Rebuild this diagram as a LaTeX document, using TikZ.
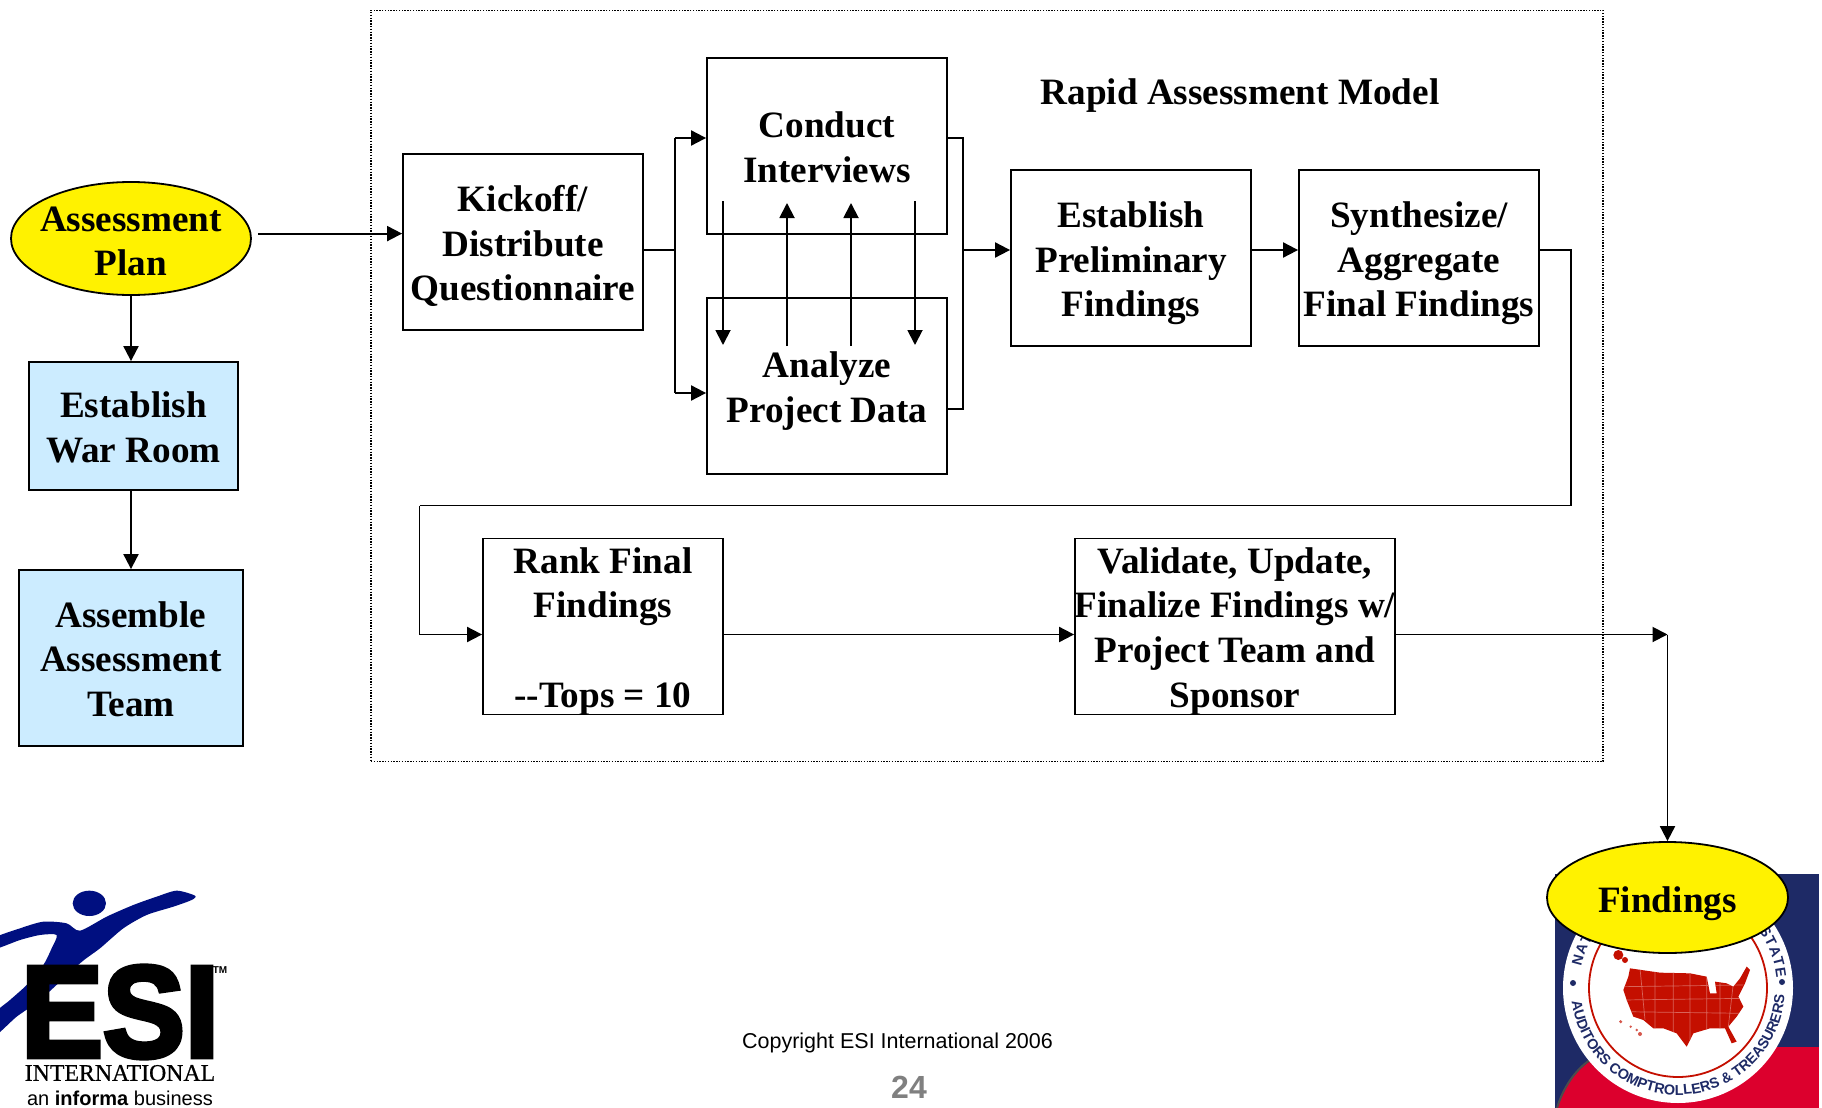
\documentclass[tikz,border=0pt]{standalone}
\usepackage{fontspec}
\setmainfont{Liberation Serif}
\newfontfamily\arialfont{Liberation Sans}
\newfontfamily\esifont{Liberation Sans Bold}[FakeBold=4]
\newfontfamily\intlfont{Liberation Serif}[FakeBold=0.6]
\newcount\sealpos
\usetikzlibrary{arrows.meta,shapes.geometric}
\definecolor{warblue}{HTML}{CCECFF}
\definecolor{logoblue}{HTML}{000F80}
\definecolor{sealblue}{HTML}{1E2A66}
\definecolor{sealred}{HTML}{DC002D}
\definecolor{mapred}{HTML}{C40F00}
\definecolor{pagegray}{HTML}{808080}
\tikzset{
  flow/.style={draw=black,line width=0.9pt,rectangle,inner sep=0pt},
  lab/.style={align=center,inner sep=0pt,font=\fontsize{18.6}{22.35}\selectfont\bfseries},
  warbox/.style={flow,fill=warblue},
  oval/.style={flow,ellipse,fill=yellow},
  conn/.style={draw=black,line width=0.95pt},
  arr/.style={conn,-{Triangle[length=7.5pt,width=7.5pt]}},
  frame/.style={draw=black,line width=0.6pt,dash pattern=on 0.7pt off 0.7pt,rectangle,inner sep=0pt},
  copyr/.style={font=\arialfont\fontsize{10.75}{13}\selectfont,inner sep=0pt},
  pagenum/.style={font=\arialfont\bfseries\fontsize{16}{18}\selectfont,text=pagegray,inner sep=0pt},
  sealch/.style={font=\arialfont\bfseries\fontsize{7.2}{8}\selectfont,text=sealblue,inner sep=0pt}
}
\begin{document}
\begin{tikzpicture}[x=0.5pt,y=-0.5pt]
\useasboundingbox (0,0) rectangle (1822,1108);

% ---- left logo
\begin{scope}[shift={(0,860)},xscale=1/3,yscale=1/3]
  \fill[logoblue] (268,130) ellipse[x radius=50,y radius=38];
  \fill[logoblue] plot[smooth cycle,tension=0.45] coordinates {
    (585,107) (530,92) (470,110) (400,135) (320,170) (240,212) (200,190) (130,185)
    (60,205) (-20,235) (-20,268) (60,240) (120,225) (170,225) (155,265) (130,315)
    (80,375) (30,420) (-20,465) (-20,530) (50,470) (120,420) (240,310) (300,265)
    (370,205) (440,165) (520,140) (575,120)};
\end{scope}
\node[font=\esifont\fontsize{65}{65}\selectfont,inner sep=0pt,xscale=0.945] (esi) at (120,1012) {ESI};
\node[font=\arialfont\bfseries\fontsize{5}{5}\selectfont,inner sep=0pt] (tm) at (220,970) {TM};
\node[font=\intlfont\fontsize{11.9}{12}\selectfont,inner sep=0pt] (intl) at (120,1073) {INTERNATIONAL};
\node[font=\arialfont\fontsize{10}{12}\selectfont,inner sep=0pt] (informa) at (120,1098) {an \textbf{informa} business};

% ---- right logo
\fill[sealblue] (1555,874) rectangle (1819,1108);
\fill[sealred] (1640,1047) rectangle (1819,1108);
\fill[sealred] (1557,1108) .. controls (1563,1088) and (1575,1070) .. (1595,1058) -- (1640,1047) -- (1640,1108) -- cycle;
\draw[black!70,line width=1pt] (1557,1108) .. controls (1563,1088) and (1575,1070) .. (1590,1060);
\fill[white] (1678,988) circle[radius=115];
\draw[mapred,line width=0.9pt] (1678,988) circle[radius=89];
\begin{scope}[shift={(1678,988)},x=1pt,y=1pt]
  \global\sealpos=0
  \foreach \ch/\w [count=\i] in {N/722,A/722,T/611,I/278,O/778,N/722,A/722,L/611,~/279,
      A/722,S/667,S/667,O/778,C/722,I/278,A/722,T/611,I/278,O/778,N/722,~/279,
      O/778,F/611,~/279,S/667,T/611,A/722,T/611,E/667} {
    \pgfmathsetmacro\ang{168-(\the\numexpr\sealpos/10\relax+\w/20)/1691.5*156}
    \pgfmathsetmacro\rot{\ang-90}
    \ifnum\w=279 \else \node[sealch,rotate=\rot] (top\i) at (\ang:52pt) {\ch};\fi
    \global\advance\sealpos by \w\relax
  }
  \global\sealpos=0
  \foreach \ch/\w [count=\i] in {A/722,U/722,D/722,I/278,T/611,O/778,R/722,S/667,~/279,
      C/722,O/778,M/833,P/667,T/611,R/722,O/778,L/611,L/611,E/667,R/722,S/667,~/279,
      \&/722,~/279,T/611,R/722,E/667,A/722,S/667,U/722,R/722,E/667,R/722,S/667} {
    \pgfmathsetmacro\ang{187+(\the\numexpr\sealpos/10\relax+\w/20)/2165.6*166}
    \pgfmathsetmacro\rot{\ang-270}
    \ifnum\w=279 \else \node[sealch,rotate=\rot] (bot\i) at (\ang:51pt) {\ch};\fi
    \global\advance\sealpos by \w\relax
  }
\end{scope}
\fill[sealblue] (1573,983) circle[radius=3] (1782,982) circle[radius=3];
\begin{scope}[shift={(1530,820)},xscale=1/3,yscale=1/3]
  \path[clip] (300,445) -- (390,458) -- (480,460) -- (530,470) -- (540,520) -- (560,520) -- (555,485) -- (590,490)
    -- (610,500) -- (630,475) -- (650,440) -- (660,450) -- (645,490) -- (625,530) -- (640,560) -- (620,590)
    -- (595,620) -- (620,665) -- (605,670) -- (585,625) -- (540,625) -- (490,640) -- (470,680) -- (440,640)
    -- (400,625) -- (370,625) -- (340,600) -- (310,590) -- (290,540) -- (280,510) -- (295,470) -- cycle;
  \fill[mapred] (270,430) rectangle (670,690);
  \draw[mapred!65!white,line width=0.35pt]
    (280,500)--(640,495) (280,540)--(640,535) (280,575)--(640,580) (330,445)--(345,600)
    (375,450)--(375,625) (430,450)--(430,640) (480,450)--(480,660) (530,460)--(530,630)
    (570,490)--(570,630) (610,490)--(595,620);
\end{scope}
\begin{scope}[shift={(1530,820)},xscale=1/3,yscale=1/3]
  \fill[mapred] (265,405) circle[radius=15] (285,420) circle[radius=9];
  \fill[mapred!70!white] (272,605) circle[radius=5] (302,620) circle[radius=4] (320,630) circle[radius=4] (330,642) circle[radius=6];
\end{scope}

% ---- frame
\node[frame,minimum width=616pt,minimum height=375.75pt] (frame) at (987,386) {};
\node[lab] (rapid) at (1240,95.5) {Rapid Assessment Model};

% ---- nodes
\node[oval,minimum width=120pt,minimum height=56.5pt,label={[lab,yshift=-1.4pt]center:{Assessment\\Plan}}] (plan) at (131,238.5) {};
\node[warbox,minimum width=104.5pt,minimum height=64pt,label={[lab,yshift=-0.6pt]center:{Establish\\War Room}}] (war) at (133.5,426) {};
\node[warbox,minimum width=112pt,minimum height=88pt,label={[lab,yshift=-0.6pt]center:{Assemble\\Assessment\\Team}}] (team) at (131,658) {};
\node[flow,minimum width=120pt,minimum height=88pt,label={[lab,yshift=-2.0pt]center:{Kickoff/\\Distribute\\Questionnaire}}] (kick) at (523,242) {};
\node[flow,minimum width=120pt,minimum height=88pt,label={[lab,yshift=-0.6pt]center:{Conduct\\Interviews}}] (cond) at (827,146) {};
\node[flow,minimum width=120pt,minimum height=88pt,label={[lab,yshift=-2.5pt]center:{Analyze\\Project Data}}] (anal) at (827,386) {};
\node[flow,minimum width=120pt,minimum height=88pt,label={[lab,yshift=-2.6pt]center:{Establish\\Preliminary\\Findings}}] (prel) at (1131,258) {};
\node[flow,minimum width=120pt,minimum height=88pt,label={[lab,yshift=-2.6pt]center:{Synthesize/\\Aggregate\\Final Findings}}] (synt) at (1419,258) {};
\node[flow,minimum width=120pt,minimum height=88pt,label={[lab,yshift=-2.4pt]center:{Rank Final\\Findings\\ \\{-}{-}Tops = 10}}] (rank) at (603,626.5) {};
\node[flow,minimum width=160pt,minimum height=88pt,label={[lab,yshift=-2.4pt]center:{Validate, Update,\\Finalize Findings w/\\Project Team and\\Sponsor}}] (vali) at (1235,626.5) {};
\node[oval,minimum width=120.5pt,minimum height=55.5pt,label={[lab,yshift=-2.9pt]center:{Findings}}] (find) at (1667.5,897.5) {};

% ---- named free ends
\coordinate (planout) at (258,233.6);
\coordinate (split) at (675,250);
\coordinate (merge) at (963,250);
\coordinate (turnR) at (1571,505.5);
\coordinate (turnL) at (419.5,505.5);
\coordinate (corner) at (1667.5,634.5);
\coordinate (lowA) at (0,393);
\coordinate (lowB) at (0,409);
\coordinate (upA) at (0,138);
\coordinate (d1a) at (723,201); \coordinate (d1b) at (723,345);
\coordinate (u1a) at (787,346); \coordinate (u1b) at (787,203);
\coordinate (u2a) at (851,346); \coordinate (u2b) at (851,203);
\coordinate (d2a) at (915,201); \coordinate (d2b) at (915,345);

% ---- connectors
\draw[arr] (planout) -- (planout -| kick.west);
\draw[arr] (plan.south) -- (plan.south |- war.north);
\draw[arr] (plan.south |- war.south) -- (plan.south |- team.north);
\draw[conn] (kick.east |- split) -- (split);
\draw[arr] (split |- upA) -- (cond.west |- upA);
\draw[arr] (split |- lowA) -- (anal.west |- lowA);
\draw[conn] (split |- upA) -- (split |- lowA);
\draw[conn] (cond.east |- upA) -- (merge |- upA) -- (merge |- lowB) -- (anal.east |- lowB);
\draw[arr] (merge) -- (prel.west |- merge);
\draw[arr] (d1a) -- (d1b);
\draw[arr] (u1a) -- (u1b);
\draw[arr] (u2a) -- (u2b);
\draw[arr] (d2a) -- (d2b);
\draw[arr] (prel.east |- merge) -- (synt.west |- merge);
\draw[conn] (synt.east |- merge) -- (turnR |- merge) -- (turnR) -- (turnL);
\draw[arr] (turnL) -- (turnL |- corner) -- (rank.west |- corner);
\draw[arr] (rank.east |- corner) -- (vali.west |- corner);
\draw[arr] (vali.east |- corner) -- (corner);
\draw[arr] (corner) -- (find.north);

% ---- footer
\node[copyr] (copy) at (897.5,1043.3) {Copyright ESI International 2006};
\node[pagenum] (pg) at (909,1087) {24};
\end{tikzpicture}
\end{document}
